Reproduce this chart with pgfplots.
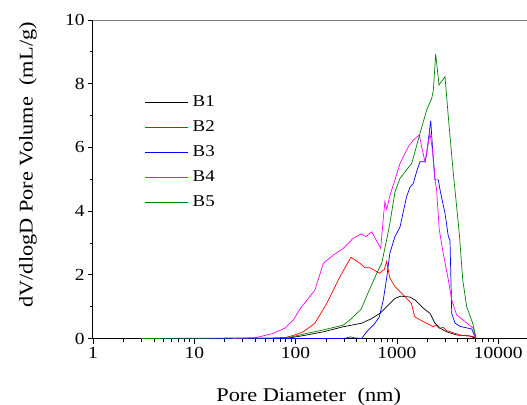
\documentclass[border=0pt]{standalone}
\usepackage{fontspec}
\setmainfont{Liberation Serif}[FakeStretch=1.15]
\usepackage{pgfplots}
\pgfplotsset{compat=1.18}
\definecolor{bone}{RGB}{0,0,0}
\definecolor{btwo}{RGB}{255,0,0}
\definecolor{bthree}{RGB}{0,0,255}
\definecolor{bfour}{RGB}{255,0,255}
\definecolor{bfive}{RGB}{0,128,0}

\begin{document}
\begin{tikzpicture}
\useasboundingbox (-93bp,-66.5bp) rectangle (434bp,338.5bp);
\begin{axis}[
    scale only axis,
    width=434bp, height=318.5bp,
    xmode=log,
    xmin=1, xmax=19250,
    ymin=0, ymax=10,
    axis x line*=bottom,
    axis y line*=left,
    axis line style={line width=1bp, black},
    every tick/.style={black, line width=0.8bp},
    tick align=outside,
    major tick length=5bp,
    minor tick length=3bp,
    xtick={1,10,100,1000,10000},
    xticklabels={1,10,100,1000,10000},
    ytick={0,2,4,6,8,10},
    minor y tick num=1,
    /pgf/number format/assume math mode=true,
    ticklabel style={font=\fontsize{17}{19}\selectfont},
    xlabel={Pore Diameter\hspace{0.6em}(nm)},
    ylabel={dV/dlogD Pore Volume\hspace{0.6em}(mL/g)},
    label style={font=\fontsize{19.5}{22}\selectfont},
    xlabel style={at={(rel axis cs:0.497,0)}, anchor=center, yshift=-58bp},
    ylabel style={at={(rel axis cs:0,0.545)}, anchor=center, yshift=65bp},
    legend cell align=left,
    legend image code/.code={\draw[#1] (0bp,0bp) -- (43bp,0bp);},
    legend style={at={(rel axis cs:0.1193,0.764)}, anchor=north west,
        draw=none, fill=none, inner sep=0pt, row sep=12bp, column sep=4bp,
        nodes={inner sep=0pt, text height=11bp, text depth=2bp},
        font=\fontsize{16.5}{18}\selectfont},
    every axis plot/.append style={line width=0.7bp},
    clip=false,
]

\addplot[bone] coordinates {
(3,0) (60,0) (88,0.02) (129,0.11) (188,0.21) (296,0.37) (449,0.48) (560,0.62)
(681,0.79) (793,1.0) (957,1.26) (1089,1.33) (1349,1.3) (1510,1.21) (1824,0.95)
(2123,0.79) (2377,0.48) (2667,0.32) (3102,0.21) (3890,0.11) (5270,0.08) (6000,0)
};
\addlegendentry{B1}

\addplot[btwo] coordinates {
(3,0) (70,0) (82,0.04) (100,0.12) (119,0.21) (155,0.48) (203,1.1) (274,1.94)
(352,2.55) (432,2.36) (485,2.22) (544,2.22) (671,2.05) (751,2.17) (793,2.42)
(851,1.9) (957,1.63) (1156,1.37) (1390,1.1) (1500,0.68) (1824,0.53) (2290,0.37)
(2425,0.42) (2620,0.32) (2870,0.35) (3102,0.25) (4200,0.11) (5680,0.06) (6000,0)
};
\addlegendentry{B2}

\addplot[bthree] coordinates {
(3,0) (300,0) (350,0.05) (380,0.02) (449,0) (503,0.21) (608,0.48) (670,0.68)
(734,1.21) (793,1.9) (851,2.67) (957,3.2) (1073,3.5) (1245,4.45) (1348,4.75)
(1452,4.87) (1566,5.24) (1690,5.55) (1900,5.55) (1968,5.8) (2157,6.84)
(2255,5.92) (2377,4.98) (2565,4.98) (2667,4.66) (2985,3.93) (3220,3.2)
(3342,3.09) (3477,0.79) (3750,0.48) (4200,0.38) (5470,0.3) (6000,0)
};
\addlegendentry{B3}

\addplot[bfour] coordinates {
(24,0) (29,0.01) (41,0.03) (60,0.16) (78,0.32) (95,0.58) (110,0.92) (155,1.52)
(188,2.36) (236,2.62) (296,2.83) (371,3.15) (443,3.28) (496,3.2) (564,3.35)
(692,2.83) (740,3.9) (762,4.3) (793,4.05) (855,4.5) (957,4.98) (1073,5.5)
(1297,6.02) (1452,6.23) (1663,6.39) (1755,6.02) (1893,5.55) (2123,6.44)
(2240,5.92) (2377,4.98) (2460,4.7) (2620,3.41) (2870,2.67) (3220,1.84)
(3477,1.21) (3890,0.74) (4700,0.53) (5680,0.32) (6000,0)
};
\addlegendentry{B4}

\addplot[bfive] coordinates {
(3,0) (60,0.02) (88,0.04) (129,0.16) (188,0.27) (296,0.42) (358,0.63) (443,0.92)
(544,1.58) (633,2.05) (708,2.36) (804,3.2) (851,3.6) (957,4.6) (1073,5.03)
(1400,5.5) (1690,6.44) (1968,7.17) (2207,7.54) (2290,7.8) (2415,8.93)
(2605,7.96) (2985,8.22) (3250,6.8) (3605,5.19) (4130,3.3) (4465,1.84)
(4886,1.0) (5600,0.48) (6000,0.06) (6050,0)
};
\addlegendentry{B5}

\draw[gray, line width=0.8bp] (rel axis cs:0,1) -- (rel axis cs:1,1);
\end{axis}
\end{tikzpicture}
\end{document}
